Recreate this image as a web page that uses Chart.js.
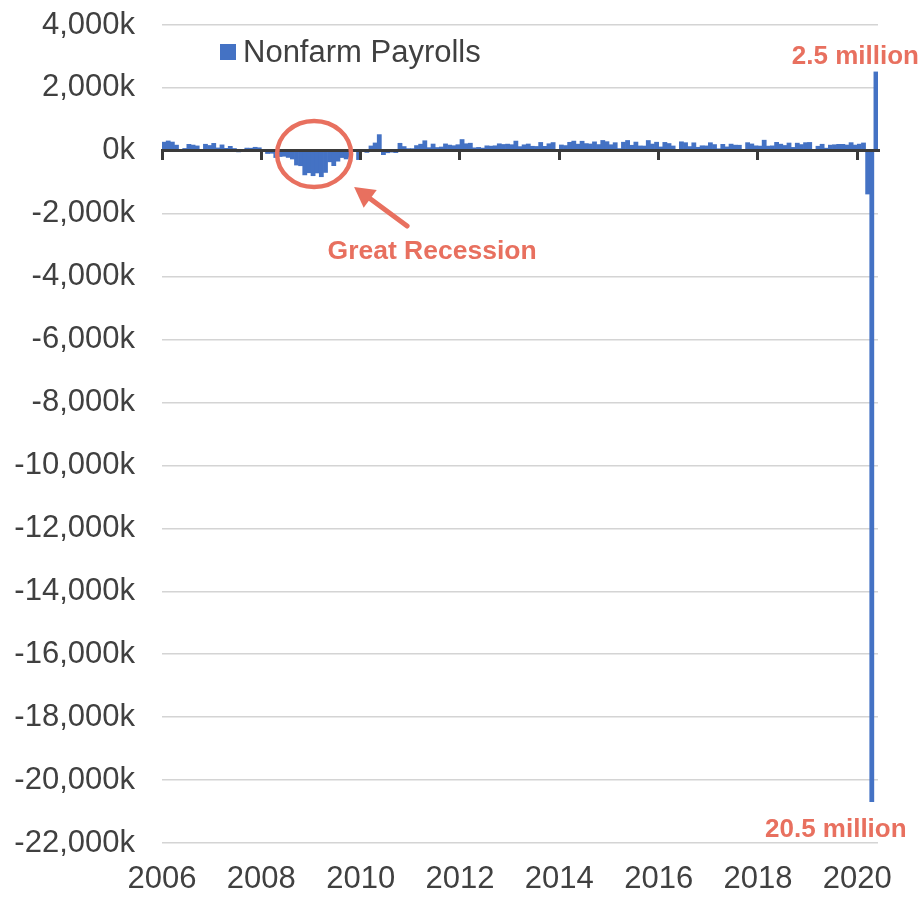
<!DOCTYPE html>
<html>
<head>
<meta charset="utf-8">
<title>Nonfarm Payrolls</title>
<script src="https://cdn.jsdelivr.net/npm/chart.js@4/dist/chart.umd.min.js"></script>
<style>
  html, body { margin: 0; padding: 0; background: #fff; }
  #wrap { width: 922px; height: 897px; }
</style>
</head>
<body>
<div id="wrap"><canvas id="payrollChart"></canvas></div>
<script>
// Monthly change in nonfarm payrolls (thousands), Jan 2006 - May 2020
const payrolls = [
  277, 315, 280, 182, 23, 77, 207, 184, 157, 2, 210, 171,              // 2006
  238, 93, 190, 80, 143, 75, -34, -20, 88, 84, 114, 98,                // 2007
  17, -85, -78, -214, -182, -172, -210, -259, -452, -474, -765, -697,  // 2008
  -791, -703, -823, -687, -349, -471, -329, -214, -258, -202, -8, -279, // 2009
  18, -50, 156, 251, 516, -122, -61, -42, -57, 241, 137, 71,           // 2010
  70, 168, 212, 322, 102, 217, 106, 122, 221, 183, 164, 196,           // 2011
  360, 226, 243, 96, 110, 88, 160, 150, 161, 225, 203, 214,            // 2012
  196, 311, 135, 192, 218, 146, 140, 268, 143, 226, 264, 45,           // 2013
  187, 168, 272, 310, 213, 306, 232, 218, 286, 200, 331, 292,          // 2014
  195, 260, 72, 275, 330, 178, 279, 157, 153, 329, 216, 275,           // 2015
  124, 269, 233, 155, 41, 288, 260, 136, 256, 114, 162, 157,           // 2016
  259, 200, 67, 207, 126, 214, 182, 179, 14, 261, 220, 160,            // 2017
  152, 339, 151, 159, 270, 213, 171, 249, 110, 245, 200, 261,          // 2018
  268, 1, 147, 210, 85, 182, 194, 207, 208, 185, 261, 184,             // 2019
  214, 251, -1373, -20687, 2509                                        // 2020
];

const yearLabels = ['2006', '2008', '2010', '2012', '2014', '2016', '2018', '2020'];
const monthsPerLabel = 24;
const yMin = -22000;
const yMax = 4000;
const yStep = 2000;

const seriesName = 'Nonfarm Payrolls';
const recessionLabel = 'Great Recession';
const recessionCenter = [36.75, -100]; // month index, value
const mayLabel = '2.5 million';
const aprilLabel = '20.5 million';

const fontFamily = "'Liberation Sans', Arial, sans-serif";
const barColor = '#4472c4';
const textColor = '#404040';
const noteColor = '#e8705f';

// bars sit in the middle of each month slot
const barPoints = payrolls.map((v, i) => ({ x: i + 0.5, y: v }));

// legend, circle, arrow and the red notes
const annotationPlugin = {
  id: 'annotations',
  afterDraw(chart) {
    const { ctx, chartArea: area, scales: { x, y } } = chart;
    ctx.save();

    ctx.fillStyle = barColor;
    ctx.fillRect(area.left + 58, area.top + 19, 16, 16);
    ctx.fillStyle = textColor;
    ctx.font = `31px ${fontFamily}`;
    ctx.textAlign = 'left';
    ctx.textBaseline = 'middle';
    ctx.fillText(seriesName, area.left + 81, area.top + 28);

    const cx = x.getPixelForValue(recessionCenter[0]);
    const cy = y.getPixelForValue(recessionCenter[1]);
    ctx.strokeStyle = noteColor;
    ctx.lineWidth = 4.5;
    ctx.beginPath();
    ctx.ellipse(cx, cy, 37, 33, 0, 0, Math.PI * 2);
    ctx.stroke();

    const tip = { x: cx + 40, y: cy + 33 };
    const tail = { x: cx + 93, y: cy + 72 };
    const ang = Math.atan2(tip.y - tail.y, tip.x - tail.x);
    const headLen = 20, headHalf = 11;
    const baseX = tip.x - headLen * Math.cos(ang);
    const baseY = tip.y - headLen * Math.sin(ang);
    ctx.lineWidth = 5;
    ctx.lineCap = 'round';
    ctx.beginPath();
    ctx.moveTo(tail.x, tail.y);
    ctx.lineTo(baseX, baseY);
    ctx.stroke();
    ctx.fillStyle = noteColor;
    ctx.beginPath();
    ctx.moveTo(tip.x, tip.y);
    ctx.lineTo(baseX + headHalf * Math.sin(ang), baseY - headHalf * Math.cos(ang));
    ctx.lineTo(baseX - headHalf * Math.sin(ang), baseY + headHalf * Math.cos(ang));
    ctx.closePath();
    ctx.fill();

    ctx.font = `bold 26.5px ${fontFamily}`;
    ctx.textAlign = 'center';
    ctx.fillText(recessionLabel, cx + 118, cy + 98);

    const n = payrolls.length;
    const mayX = x.getPixelForValue(n - 0.5);
    const mayY = y.getPixelForValue(payrolls[n - 1]);
    ctx.font = `bold 26px ${fontFamily}`;
    ctx.textAlign = 'right';
    ctx.fillText(mayLabel, mayX + 43, mayY - 15);

    const aprX = x.getPixelForValue(n - 1.5);
    const aprY = y.getPixelForValue(payrolls[n - 2]);
    ctx.textAlign = 'center';
    ctx.fillText(aprilLabel, aprX - 36, aprY + 28);

    ctx.restore();
  }
};

const payrollChart = new Chart(document.getElementById('payrollChart'), {
  type: 'bar',
  data: {
    datasets: [{
      label: seriesName,
      data: barPoints,
      backgroundColor: barColor,
      borderWidth: 0,
      barPercentage: 1,
      categoryPercentage: 1
    }]
  },
  options: {
    responsive: true,
    maintainAspectRatio: false,
    animation: false,
    layout: { padding: { top: 25, right: 44, bottom: 0, left: 0 } },
    plugins: {
      legend: { display: false },
      tooltip: { enabled: true }
    },
    scales: {
      // axis line drawn at zero, with year tick marks
      x: {
        type: 'linear',
        axis: 'x',
        position: { y: 0 },
        min: 0,
        max: payrolls.length,
        offset: false,
        grid: {
          drawOnChartArea: false,
          drawTicks: true,
          tickLength: 8,
          offset: false,
          color: '#3a3a3a',
          lineWidth: 3,
          z: 1
        },
        border: { color: '#3a3a3a', width: 3, z: 1 },
        ticks: { display: false, stepSize: monthsPerLabel, includeBounds: false }
      },
      // year labels at the bottom
      x2: {
        type: 'linear',
        axis: 'x',
        position: 'bottom',
        min: 0,
        max: payrolls.length,
        offset: false,
        grid: { display: false, drawTicks: false, offset: false },
        border: { display: false },
        ticks: {
          stepSize: monthsPerLabel,
          includeBounds: false,
          maxRotation: 0,
          autoSkip: false,
          padding: 18,
          color: textColor,
          font: { family: fontFamily, size: 31 },
          callback: (value) => yearLabels[Math.round(value / monthsPerLabel)]
        },
        afterFit: (scale) => { scale.height = 54; }
      },
      y: {
        min: yMin,
        max: yMax,
        grid: {
          color: (c) => (c.tick && c.tick.value === 0 ? 'rgba(0,0,0,0)' : '#d4d4d4'),
          lineWidth: 1.5,
          drawTicks: false
        },
        border: { display: false },
        ticks: {
          stepSize: yStep,
          padding: 27,
          color: textColor,
          font: { family: fontFamily, size: 31 },
          callback: (value) => value.toLocaleString('en-US') + 'k'
        },
        afterFit: (scale) => {
          scale.width = 162;
          scale.paddingTop = 0;
          scale.paddingBottom = 0;
        }
      }
    }
  },
  plugins: [annotationPlugin]
});
</script>
</body>
</html>
